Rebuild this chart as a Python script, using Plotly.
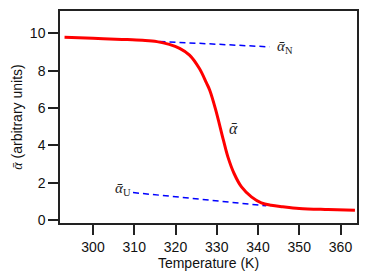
import plotly.graph_objects as go

temp_alpha = [293.1, 300.0, 307.0, 312.0, 315.5, 318.5, 321.0, 323.4, 325.8, 327.5, 328.3, 329.7,
              331.6, 332.7, 334.2, 336.0, 338.4, 340.8, 343.2, 346.0, 350.0, 357.0, 363.5]
alpha_vals = [9.79, 9.74, 9.68, 9.63, 9.56, 9.41, 9.20, 8.84, 8.12, 7.35, 6.96, 5.95,
              4.30, 3.39, 2.50, 1.78, 1.25, 0.93, 0.80, 0.72, 0.63, 0.57, 0.53]

# Native baseline
temp_native = [313.7, 342.8]
alpha_native = [9.60, 9.28]

# Unfolded baseline
temp_unfolded = [309.7, 342.0]
alpha_unfolded = [1.48, 0.77]

x_ticks = [300, 310, 320, 330, 340, 350, 360]
y_ticks = [0, 2, 4, 6, 8, 10]

SERIF = "Liberation Serif"
SANS = "Liberation Sans, Arial, sans-serif"

fig = go.Figure()
fig.add_trace(go.Scatter(x=temp_native, y=alpha_native, mode="lines",
                         line=dict(color="#0000ff", width=1.5, dash="6px,4px"),
                         showlegend=False, hoverinfo="skip"))
fig.add_trace(go.Scatter(x=temp_unfolded, y=alpha_unfolded, mode="lines",
                         line=dict(color="#0000ff", width=1.5, dash="6px,4px"),
                         showlegend=False, hoverinfo="skip"))
fig.add_trace(go.Scatter(x=temp_alpha, y=alpha_vals, mode="lines",
                         line=dict(color="#ff0000", width=3, shape="spline", smoothing=1.0),
                         showlegend=False))

fig.add_annotation(x=344.0, y=9.27, text="<i>ᾱ</i><sub>N</sub>", showarrow=False,
                   xanchor="left", yanchor="middle", font=dict(family=SERIF, size=15, color="#222"))
fig.add_annotation(x=309.8, y=1.68, text="<i>ᾱ</i><sub>U</sub>", showarrow=False,
                   xanchor="right", yanchor="middle", font=dict(family=SERIF, size=15, color="#222"))
fig.add_annotation(x=334.1, y=4.9, text="<i>ᾱ</i>", showarrow=False,
                   xanchor="center", yanchor="middle", font=dict(family=SERIF, size=16, color="#222"))

axis_common = dict(showline=True, linecolor="#222", linewidth=1.5, mirror=True,
                   ticks="outside", ticklen=10, tickwidth=1.5, tickcolor="#222",
                   showgrid=False, zeroline=False, automargin=False,
                   tickfont=dict(family=SANS, size=14, color="#111"))

fig.update_xaxes(range=[292, 364], tickvals=x_ticks, ticktext=[str(v) for v in x_ticks],
                 title=dict(text="Temperature (K)", font=dict(family=SANS, size=14, color="#111"), standoff=2),
                 **axis_common)
fig.update_yaxes(range=[-0.15, 11.2], tickvals=y_ticks, ticktext=[str(v) for v in y_ticks],
                 title=dict(text="<span style='font-family:Liberation Serif'><i>ᾱ</i></span> (arbitrary units)",
                            font=dict(family=SANS, size=14, color="#111"), standoff=4),
                 **axis_common)

fig.update_layout(width=389, height=273, margin=dict(l=60, r=32, t=11, b=50),
                  paper_bgcolor="white", plot_bgcolor="white")

fig.write_html("out.html", config={"displayModeBar": False},
               post_script="document.body.style.margin='0';document.body.style.overflow='hidden';")
